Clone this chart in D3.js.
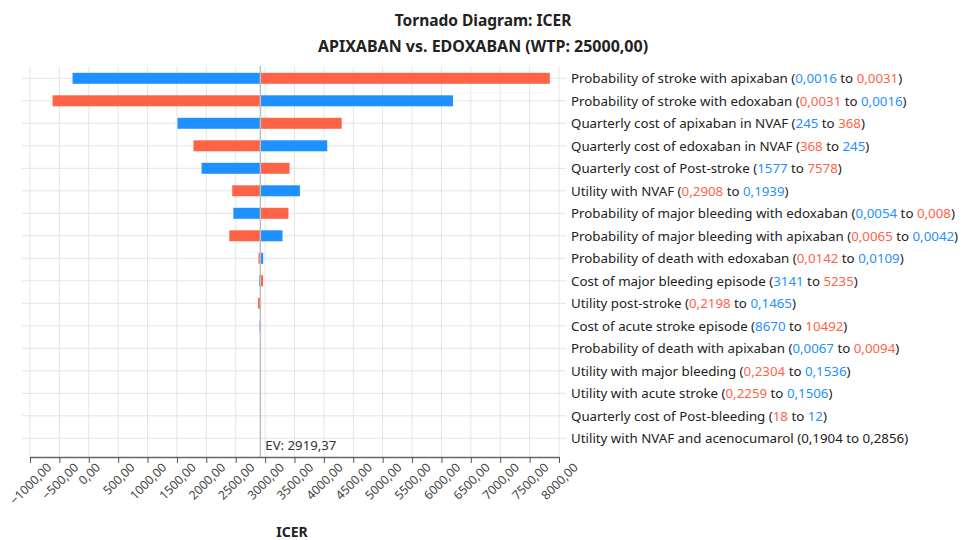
<!DOCTYPE html>
<html>
<head>
<meta charset="utf-8">
<script src="https://cdn.jsdelivr.net/npm/d3@7"></script>
<style>
    body { margin: 0; background: #fff; }
    svg { font-family: "Noto Sans", "Open Sans", sans-serif; }
</style>
</head>
<body>
<svg id="tornado" width="963" height="540"></svg>
<script>
const params = [
    'Probability of stroke with apixaban',
    'Probability of stroke with edoxaban',
    'Quarterly cost of apixaban in NVAF',
    'Quarterly cost of edoxaban in NVAF',
    'Quarterly cost of Post-stroke',
    'Utility with NVAF',
    'Probability of major bleeding with edoxaban',
    'Probability of major bleeding with apixaban',
    'Probability of death with edoxaban',
    'Cost of major bleeding episode',
    'Utility post-stroke',
    'Cost of acute stroke episode',
    'Probability of death with apixaban',
    'Utility with major bleeding',
    'Utility with acute stroke',
    'Quarterly cost of Post-bleeding',
    'Utility with NVAF and acenocumarol'
];
const fromValues = ['0,0016', '0,0031', '245', '368', '1577', '0,2908', '0,0054', '0,0065', '0,0142',
    '3141', '0,2198', '8670', '0,0067', '0,2304', '0,2259', '18', '0,1904'];
const toValues = ['0,0031', '0,0016', '368', '245', '7578', '0,1939', '0,008', '0,0042', '0,0109',
    '5235', '0,1465', '10492', '0,0094', '0,1536', '0,1506', '12', '0,2856'];
// which side of the range the first value is: 'low' (blue), 'high' (red), '' (no effect)
const fromSide = ['low', 'high', 'low', 'high', 'low', 'high', 'low', 'high', 'high',
    'low', 'high', 'low', 'low', 'high', 'high', 'high', ''];

const EV = 2919.37;
// ICER at the low (blue) and high (red) parameter value
const lowIcer = [-276, 6196, 1510, 4057, 1919, 3592, 2460, 3296, 2967,
    2900, 2925, 2905, 2919.37, 2919.37, 2919.37, 2919.37, 2919.37];
const highIcer = [7844, -616, 4303, 1781, 3416, 2441, 3397, 2391, 2888,
    2965, 2880, 2921, 2919.37, 2919.37, 2919.37, 2919.37, 2919.37];

const xTicks = d3.range(-1000, 8001, 500);

const BLUE = '#1e90ff';
const RED = '#ff6347';
const COLOR_GRID = '#e4e4e4';
const COLOR_TEXT = '#222';

const svg = d3.select('#tornado');
const fmt = d3.formatLocale({ decimal: ',', thousands: '', grouping: [3], currency: ['', ''] }).format('.2f');

const x = d3.scaleLinear().domain([-1000, 8000]).range([30, 559]);
const y = d3.scalePoint().domain(params).range([78.3, 438.3]);
const AXIS_Y = 457;
const GRID_TOP = 67;
const BAR_H = 11;

// title
svg.append('text')
    .attr('x', 483).attr('y', 20)
    .attr('text-anchor', 'middle').attr('dominant-baseline', 'central')
    .attr('font-size', 15.5).attr('font-weight', 'bold').attr('fill', COLOR_TEXT)
    .text('Tornado Diagram: ICER');
svg.append('text')
    .attr('x', 483).attr('y', 46)
    .attr('text-anchor', 'middle').attr('dominant-baseline', 'central')
    .attr('font-size', 16).attr('font-weight', 'bold').attr('fill', COLOR_TEXT)
    .text('APIXABAN vs. EDOXABAN (WTP: 25000,00)');

const g = svg.append('g');

// grid
g.selectAll('.vgrid').data(xTicks).join('line')
    .attr('x1', d => x(d)).attr('x2', d => x(d))
    .attr('y1', GRID_TOP).attr('y2', AXIS_Y)
    .attr('stroke', COLOR_GRID).attr('stroke-width', 1);
g.selectAll('.hgrid').data(params).join('line')
    .attr('x1', 22).attr('x2', 566)
    .attr('y1', d => y(d)).attr('y2', d => y(d))
    .attr('stroke', COLOR_GRID).attr('stroke-width', 1);

// bars
params.forEach(function (p, i) {
    [[lowIcer[i], BLUE], [highIcer[i], RED]].forEach(function (b) {
        const x0 = Math.min(x(EV), x(b[0]));
        const w = Math.abs(x(b[0]) - x(EV));
        if (w < 0.01) return;
        g.append('rect')
            .attr('x', x0).attr('y', y(p) - BAR_H / 2)
            .attr('width', w).attr('height', BAR_H)
            .attr('fill', b[1]);
    });
});

// EV line
g.append('line')
    .attr('x1', x(EV)).attr('x2', x(EV))
    .attr('y1', GRID_TOP - 1).attr('y2', AXIS_Y)
    .attr('stroke', '#bdbdbd').attr('stroke-width', 1.5);
g.append('text')
    .attr('x', x(EV) + 5).attr('y', 450)
    .attr('font-size', 13.2).attr('fill', '#333')
    .text('EV: ' + fmt(EV));

// x axis
const axis = g.append('g').attr('transform', 'translate(0,' + AXIS_Y + ')')
    .call(d3.axisBottom(x).tickValues(xTicks).tickFormat(fmt).tickSize(6).tickSizeOuter(0));
axis.select('.domain').attr('stroke', '#666').attr('stroke-width', 1.5);
axis.selectAll('.tick line').attr('stroke', '#555');
axis.selectAll('.tick text')
    .attr('font-size', 12.3).attr('fill', '#444')
    .attr('font-family', '"Noto Sans", sans-serif')
    .attr('text-anchor', 'middle').attr('dominant-baseline', 'central')
    .attr('y', 0).attr('dy', null)
    .attr('transform', function () {
        const len = this.getComputedTextLength();
        const off = 5 + (len + 9) * Math.SQRT1_2 / 2;
        return 'translate(0,' + off + ') rotate(-45)';
    });

svg.append('text')
    .attr('x', 292).attr('y', 531)
    .attr('text-anchor', 'middle').attr('dominant-baseline', 'central')
    .attr('font-size', 14).attr('font-weight', 'bold').attr('fill', COLOR_TEXT)
    .text('ICER');

// parameter labels
params.forEach(function (p, i) {
    const fromColor = fromSide[i] === 'low' ? BLUE : fromSide[i] === 'high' ? RED : COLOR_TEXT;
    const toColor = fromSide[i] === 'low' ? RED : fromSide[i] === 'high' ? BLUE : COLOR_TEXT;
    const t = svg.append('text')
        .attr('x', 571).attr('y', y(p))
        .attr('dominant-baseline', 'central')
        .attr('font-size', 13.3).attr('fill', COLOR_TEXT);
    t.append('tspan').text(p + ' (');
    t.append('tspan').attr('fill', fromColor).text(fromValues[i]);
    t.append('tspan').text(' to ');
    t.append('tspan').attr('fill', toColor).text(toValues[i]);
    t.append('tspan').text(')');
});
</script>
</body>
</html>
